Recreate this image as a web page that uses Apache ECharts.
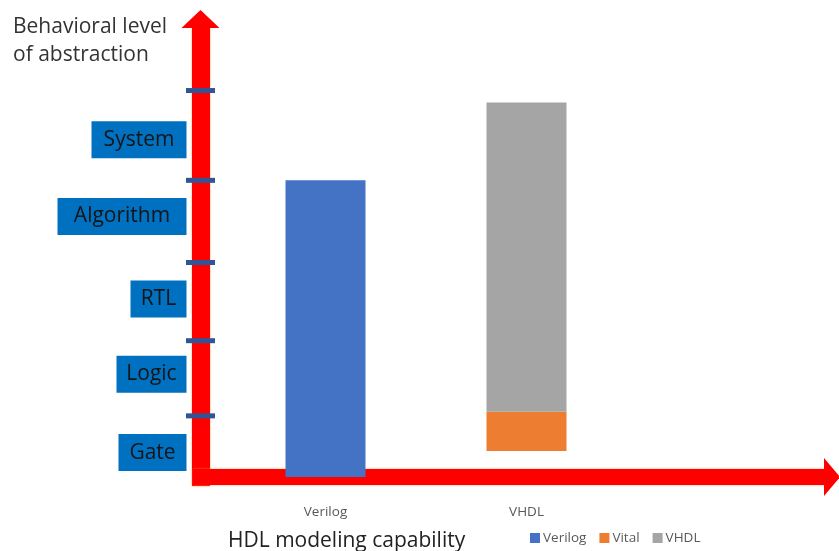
<!DOCTYPE html>
<html>
<head>
<meta charset="utf-8">
<title>HDL modeling capability</title>
<script src="https://cdn.jsdelivr.net/npm/echarts@6/dist/echarts.min.js"></script>
<style>
  html, body { margin: 0; padding: 0; background: #ffffff; }
  #chart { width: 839px; height: 551px; }
</style>
</head>
<body>
<div id="chart"></div>
<script>
// Abstraction levels along the vertical axis (value = centre of each level band)
const levelNames = ['Gate', 'Logic', 'RTL', 'Algorithm', 'System'];
const levelCenters = [6.1, 25.6, 44.4, 65, 84.1];
// Boundaries between levels (blue dashes on the vertical arrow)
const levelTicks = [15.25, 34, 53.5, 74, 96.4];

// Languages along the horizontal axis
const languages = ['Verilog', 'VHDL'];

// Range of abstraction covered by each language: [from, to]
const verilogSpan = [0, 74];
const vitalSpan = [6.5, 16.25];
const vhdlSpan = [16.25, 93.4];

const FONT = '"Open Sans", "Liberation Sans", sans-serif';
const ARROW_RED = '#FF0000';
const LEVEL_MAX = 112;

const boxWidth = { Gate: 68, Logic: 70, RTL: 56, Algorithm: 129, System: 95 };
const levelRich = {};
levelNames.forEach(function (name, i) {
  levelRich['b' + i] = {
    width: boxWidth[name],
    height: 37,
    lineHeight: 37,
    align: 'center',
    backgroundColor: '#0070C0',
    color: '#151515',
    fontSize: 21,
    fontFamily: FONT
  };
});

function nearestIndex(list, v) {
  let best = 0;
  list.forEach(function (x, i) {
    if (Math.abs(x - v) < Math.abs(list[best] - v)) best = i;
  });
  return best;
}

// Languages that cover nothing at a given column get a gap (null)
function column(span, langIndex) {
  return languages.map(function (_, i) { return i === langIndex ? span : null; });
}
const verilogCol = column(verilogSpan, 0);
const vitalCol = column(vitalSpan, 1);
const vhdlCol = column(vhdlSpan, 1);

const chart = echarts.init(document.getElementById('chart'), null, { renderer: 'canvas' });

const arrowLine = function (width, head) {
  return {
    show: true,
    symbol: ['none', 'triangle'],
    symbolSize: [38, head],
    symbolOffset: [0, head / 2],
    lineStyle: {
      color: ARROW_RED, width: width, cap: 'square',
      shadowColor: 'rgba(255,150,60,0.8)', shadowBlur: 2
    }
  };
};

chart.setOption({
  animation: false,
  backgroundColor: '#ffffff',
  title: [
    {
      text: 'Behavioral level\nof abstraction',
      left: 13,
      top: 13,
      padding: 0,
      textStyle: { fontFamily: FONT, fontSize: 21, fontWeight: 'normal', color: '#333333', lineHeight: 28 }
    },
    {
      text: 'HDL modeling capability',
      left: 228,
      top: 527,
      padding: 0,
      textStyle: { fontFamily: FONT, fontSize: 21, fontWeight: 'normal', color: '#222222', lineHeight: 28 }
    }
  ],
  legend: {
    data: ['Verilog', 'Vital', 'VHDL'],
    left: 530,
    top: 531,
    padding: 0,
    icon: 'rect',
    itemWidth: 10,
    itemHeight: 10,
    itemGap: 13,
    textStyle: { fontFamily: FONT, fontSize: 13.5, color: '#595959', padding: [0, 0, 0, -2] }
  },
  grid: [
    // frame: the two arrows, level boxes and level boundaries
    { left: 200.5, right: 15, top: 28, bottom: 74, outerBoundsMode: 'none' },
    // columns
    { left: 225, right: 212, top: 28, bottom: 74, outerBoundsMode: 'none' }
  ],
  xAxis: [
    {
      gridIndex: 0,
      type: 'value',
      min: 0,
      max: 1,
      offset: 8.5,
      splitLine: { show: false },
      axisTick: { show: false },
      axisLabel: { show: false },
      axisLine: arrowLine(16, 16)
    },
    {
      gridIndex: 1,
      type: 'category',
      data: languages,
      offset: 8.5,
      axisLine: { show: false },
      axisTick: { show: false },
      splitLine: { show: false },
      axisLabel: {
        margin: 20,
        fontFamily: FONT,
        fontSize: 13.5,
        color: '#595959'
      }
    }
  ],
  yAxis: [
    {
      gridIndex: 0,
      type: 'value',
      min: 0,
      max: LEVEL_MAX,
      splitLine: { show: false },
      axisTick: { show: false },
      axisLine: arrowLine(18, 18),
      axisLabel: {
        customValues: levelCenters,
        margin: 14,
        formatter: function (v) {
          const i = nearestIndex(levelCenters, v);
          return '{b' + i + '|' + levelNames[i] + '}';
        },
        rich: levelRich
      }
    },
    {
      gridIndex: 1,
      type: 'value',
      min: 0,
      max: LEVEL_MAX,
      show: false,
      splitLine: { show: false }
    }
  ],
  series: [
    {
      name: 'Verilog',
      type: 'bar',
      xAxisIndex: 1,
      yAxisIndex: 1,
      stack: 'hdl',
      barWidth: 80,
      itemStyle: { color: '#4472C4' },
      data: verilogCol.map(function (s) { return s ? s[1] - s[0] : null; })
    },
    {
      name: 'base',
      type: 'bar',
      xAxisIndex: 1,
      yAxisIndex: 1,
      stack: 'hdl',
      barWidth: 80,
      silent: true,
      itemStyle: { color: 'rgba(0,0,0,0)' },
      data: vitalCol.map(function (s) { return s ? s[0] : null; })
    },
    {
      name: 'Vital',
      type: 'bar',
      xAxisIndex: 1,
      yAxisIndex: 1,
      stack: 'hdl',
      barWidth: 80,
      itemStyle: { color: '#ED7D31' },
      data: vitalCol.map(function (s) { return s ? s[1] - s[0] : null; })
    },
    {
      name: 'VHDL',
      type: 'bar',
      xAxisIndex: 1,
      yAxisIndex: 1,
      stack: 'hdl',
      barWidth: 80,
      itemStyle: { color: '#A5A5A5' },
      data: vhdlCol.map(function (s) { return s ? s[1] - s[0] : null; })
    },
    {
      name: 'level boundaries',
      type: 'scatter',
      xAxisIndex: 0,
      yAxisIndex: 0,
      clip: false,
      silent: true,
      symbol: 'rect',
      symbolSize: [29, 5],
      itemStyle: { color: '#2F5597', opacity: 1 },
      z: 5,
      data: levelTicks.map(function (v) { return [0, v]; })
    }
  ]
});
</script>
</body>
</html>
